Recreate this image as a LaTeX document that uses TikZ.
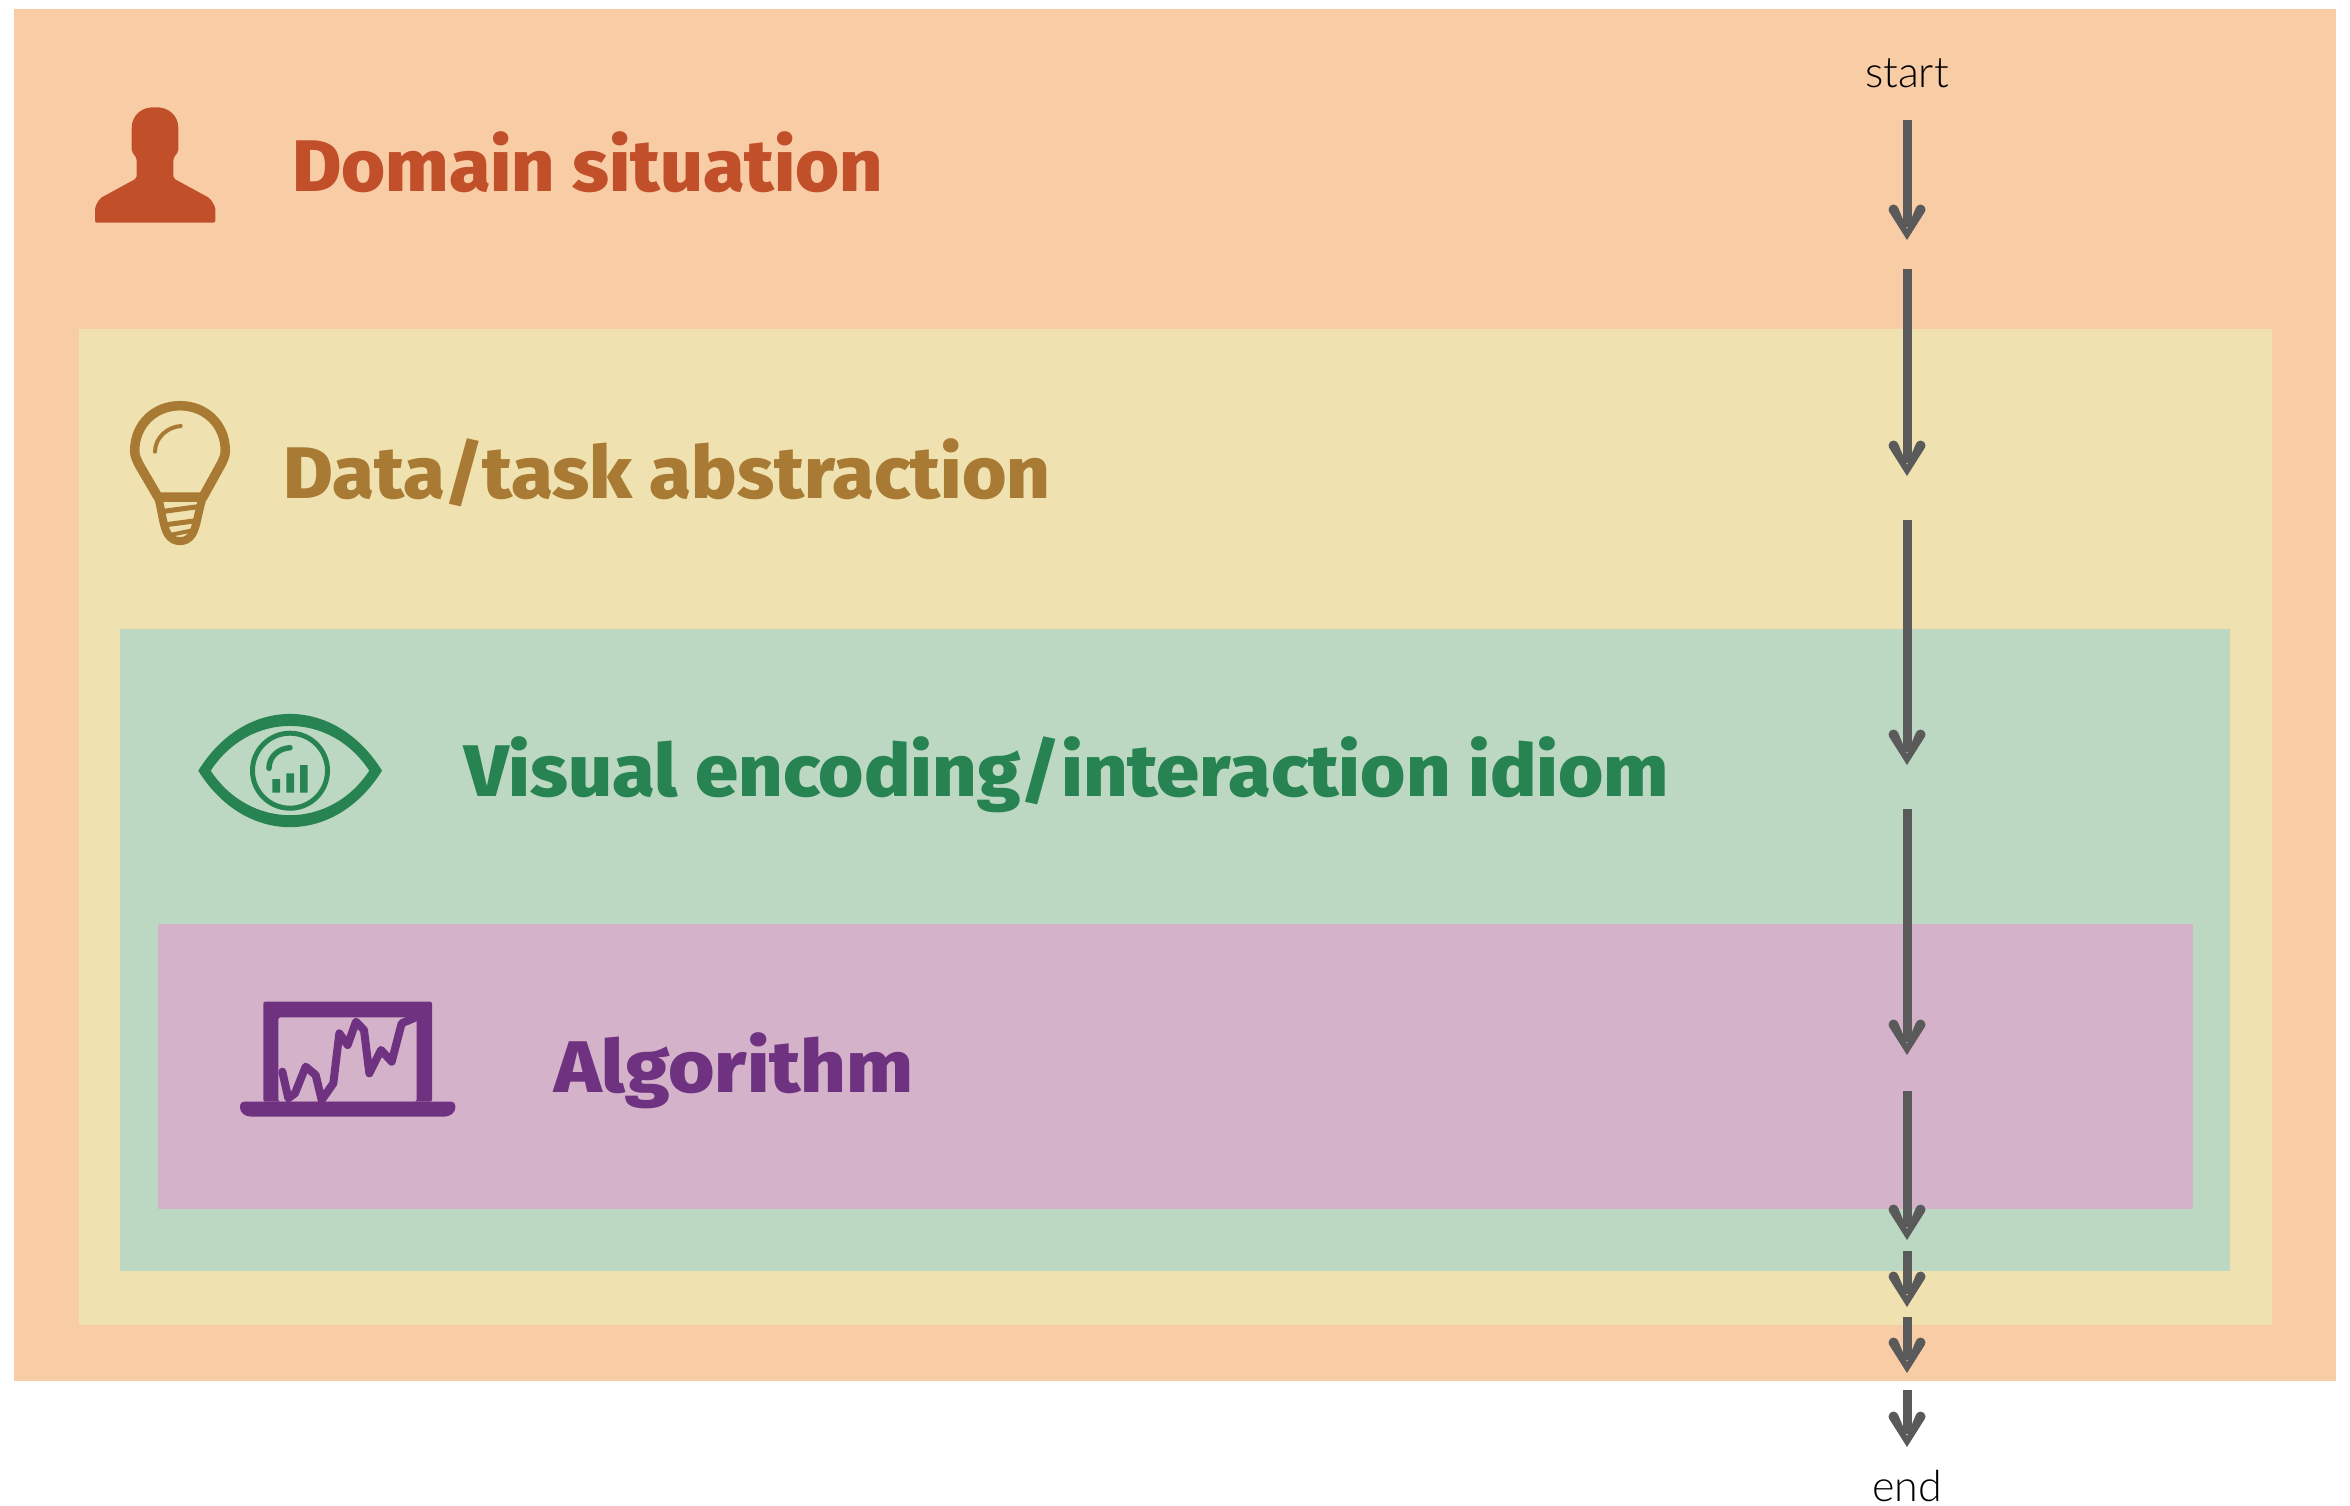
\documentclass[tikz,border=0pt]{standalone}
\usepackage{fontspec}
\usepackage{graphicx}
\usetikzlibrary{arrows.meta}
\setmainfont{Liberation Sans}
\newfontfamily\labelfont{Fira Sans ExtraBold}
\newfontfamily\noteface{Lato Light}
\definecolor{outerbg}{HTML}{F8CDA6}
\definecolor{yellowbg}{HTML}{EFE2B0}
\definecolor{greenbg}{HTML}{BDD8C2}
\definecolor{purplebg}{HTML}{D3B2CA}
\definecolor{redink}{HTML}{C1502A}
\definecolor{ochreink}{HTML}{A87A33}
\definecolor{greenink}{HTML}{278452}
\definecolor{purpleink}{HTML}{6F3280}
\definecolor{arrowink}{HTML}{5A5A5A}
\pgfdeclarearrow{
  name=Chevron,
  setup code={
    \pgfarrowssettipend{0pt}
    \pgfarrowssetlineend{-13pt}
    \pgfarrowssetvisualbackend{-13pt}
    \pgfarrowssetbackend{-35pt}
    \pgfarrowshullpoint{0pt}{0pt}
    \pgfarrowshullpoint{-35pt}{18pt}
    \pgfarrowshullpoint{-35pt}{-18pt}
  },
  drawing code={
    \pgfpathmoveto{\pgfqpoint{0pt}{0pt}}
    \pgfpathlineto{\pgfqpoint{-28.5pt}{18pt}}
    \pgfpathlineto{\pgfqpoint{-32.5pt}{9pt}}
    \pgfpathlineto{\pgfqpoint{-11pt}{0pt}}
    \pgfpathlineto{\pgfqpoint{-32.5pt}{-9pt}}
    \pgfpathlineto{\pgfqpoint{-28.5pt}{-18pt}}
    \pgfpathclose
    \pgfpathcircle{\pgfqpoint{-30.5pt}{13.5pt}}{5pt}
    \pgfpathcircle{\pgfqpoint{-30.5pt}{-13.5pt}}{5pt}
    \pgfusepathqfill
  }
}
\tikzset{
  x=1pt,y=-1pt,
  flow/.style={draw=arrowink,color=arrowink,line width=9pt,-{Chevron}},
  layerlabel/.style={anchor=base west,inner sep=0pt,font=\labelfont\fontsize{73}{73}\selectfont},
  note/.style={anchor=base,inner sep=0pt,font=\noteface\fontsize{43}{43}\selectfont,text=black},
  icon/.style={line join=round,line cap=round},
}
\begin{document}
\begin{tikzpicture}
\useasboundingbox (0,0) rectangle (2350,1506);
\fill[white] (0,0) rectangle (2350,1506);
% layers
\fill[outerbg] (14,9) rectangle (2336,1381);
\fill[yellowbg] (79,329) rectangle (2272,1325);
\fill[greenbg] (120,629) rectangle (2230,1271);
\fill[purplebg] (158,924) rectangle (2193,1209);
% labels
\node[layerlabel,text=redink] (domain) at (292,192) {\scalebox{1.034}[1]{Domain situation}};
\node[layerlabel,text=ochreink] (abstraction) at (283,498) {\scalebox{1.043}[1]{Data/task abstraction}};
\node[layerlabel,text=greenink] (idiom) at (464,796) {\scalebox{1.063}[1]{Visual encoding/interaction idiom}};
\node[layerlabel,text=purpleink] (algorithm) at (554,1092) {\scalebox{1.09}[1]{Algorithm}};
% person
\fill[redink,rounded corners=2pt] (95,222.7) -- (95,207) -- (100,198.3) -- (136.7,178.3) -- (136.7,158.3) -- (131.7,151.7) -- (131.7,130)
  .. controls (131.7,115) and (142,107.3) .. (155,107.3) .. controls (168,107.3) and (178.3,115) .. (178.3,130)
  -- (178.3,151.7) -- (173.3,158.3) -- (173.3,178.3) -- (210,198.3) -- (215.3,207) -- (215.3,222.7) -- cycle;
% bulb
\begin{scope}[draw=ochreink,icon]
\draw[line width=9.5pt] (158,497) -- (141,468) .. controls (137,461) and (134.7,456) .. (134.7,451)
  .. controls (134.7,424) and (155,405.7) .. (180,405.7) .. controls (205,405.7) and (225.3,424) .. (225.3,451)
  .. controls (225.3,456) and (223,461) .. (219,468) -- (203,497) -- cycle;
\draw[line width=8pt] (158,497) .. controls (163,515) and (163,530) .. (170,537) .. controls (175,542.5) and (185,542.5) .. (190,537)
  .. controls (197,530) and (197,515) .. (203,497);
\draw[line width=5pt] (161,511.7) -- (198,506.7);
\draw[line width=5pt] (164,525) -- (196,520.7);
\draw[line width=4pt] (170,535) -- (190.7,530.7);
\draw[line width=4pt] (155,451.7) .. controls (155,438) and (167,427) .. (180.7,426);
\end{scope}
% eye
\fill[greenink,even odd rule] (198.3,770.7) .. controls (245,695) and (335,695) .. (382,770.7)
  .. controls (335,846) and (245,846) .. (198.3,770.7) -- cycle
  (210.7,770.7) .. controls (250,711) and (330,711) .. (369.3,770.7)
  .. controls (330,830) and (250,830) .. (210.7,770.7) -- cycle;
\draw[greenink,line width=5pt] (290,770.7) circle[radius=37.5];
\draw[greenink,line width=5.5pt,line cap=round] (269,768.3) .. controls (269,757) and (278,748.5) .. (290,747.7);
\fill[greenink] (272.3,779) rectangle (280,792.7) (286.3,773.3) rectangle (294,792.7) (300,765) rectangle (307.7,792.7);
% laptop
\begin{scope}[shift={(220,970)},scale=1/3]
\fill[purpleink,even odd rule,rounded corners=2pt] (130,395) -- (130,95) -- (636,95) -- (636,395) -- cycle (175,395) -- (175,142) -- (590,142) -- (590,395) -- cycle;
\fill[purpleink,rounded corners=4pt] (60,395) -- (706,395) -- (706,425) -- (685,440) -- (81,440) -- (60,425) -- cycle;
\draw[purpleink,line width=8pt,line join=round,line cap=round] (187,305) -- (205,385) -- (225,370) -- (257,290) -- (287,315) -- (305,390) -- (340,340) -- (358,190) -- (383,225) -- (408,155) -- (432,180) -- (448,310) -- (483,240) -- (515,275) -- (545,160) -- (585,143);
\end{scope}
% flow
\node[note] (start) at (1907,88) {start};
\node[note] (end) at (1907,1501) {end};
\coordinate (s1) at (1907,120); \coordinate (t1) at (1907,240);
\coordinate (s2) at (1907,269); \coordinate (t2) at (1907,476);
\coordinate (s3) at (1907,520); \coordinate (t3) at (1907,765);
\coordinate (s4) at (1907,809); \coordinate (t4) at (1907,1055);
\coordinate (s5) at (1907,1091); \coordinate (t5) at (1907,1240);
\coordinate (s6) at (1907,1251); \coordinate (t6) at (1907,1307);
\coordinate (s7) at (1907,1317); \coordinate (t7) at (1907,1373);
\coordinate (s8) at (1907,1390); \coordinate (t8) at (1907,1447);
\foreach \i in {1,...,8} \draw[flow] (s\i) -- (t\i);
\end{tikzpicture}
\end{document}
